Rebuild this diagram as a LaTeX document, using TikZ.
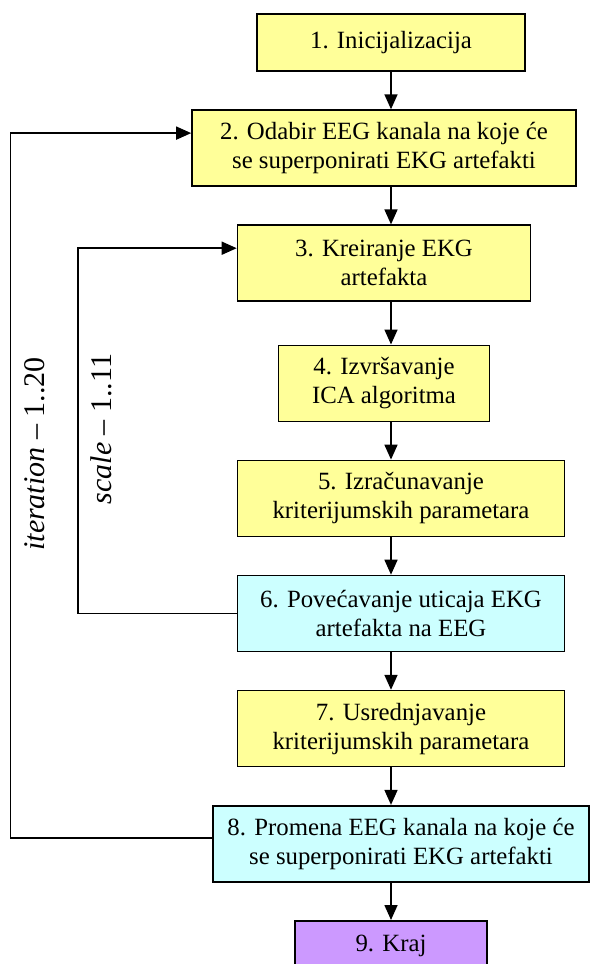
\documentclass[tikz,border=0pt]{standalone}
\usepackage{fontspec}
\setmainfont{Liberation Serif}
\usetikzlibrary{chains,positioning,arrows.meta}
\definecolor{stepyellow}{HTML}{FFFF99}
\definecolor{stepcyan}{HTML}{CCFFFF}
\definecolor{steppurple}{HTML}{CC99FF}

\begin{document}
\begin{tikzpicture}[x=1pt,y=1pt]
\tikzstyle{every path}=[line width=0.8pt]
\tikzstyle{every node}=[font=\fontsize{12.4}{14.5}\selectfont]
\edef\stepheight{38pt}
\tikzstyle{stepbox}=[draw,fill=stepyellow,minimum height=\stepheight,align=center,inner sep=1pt]
\tikzstyle{flowarrow}=[-{Triangle[length=7.5pt,width=6.5pt]}]
\tikzstyle{looplabel}=[rotate=90,font=\fontsize{15}{18}\selectfont]
\useasboundingbox (0,0) rectangle (295,-482);
\begin{scope}[start chain=1 going below,node distance=18.75pt]
 \node [on chain=1,stepbox,minimum width=134pt,minimum height=28.5pt] at (195.5,-21.25) (init) {1. Inicijalizacija};
 \node [on chain=1,stepbox,minimum width=192pt,xshift=-3.5pt] (choose) {2. Odabir EEG kanala na koje će\\se superponirati EKG artefakti};
 \node [on chain=1,stepbox,minimum width=146.5pt] (create) {3. Kreiranje EKG\\artefakta};
 \node [on chain=1,stepbox,minimum width=105.5pt,yshift=-2.5pt] (ica) {4. Izvršavanje\\ICA algoritma};
 \node [on chain=1,stepbox,minimum width=163.5pt,xshift=8.5pt] (crit) {5. Izračunavanje\\kriterijumskih parametara};
 \node [on chain=1,stepbox,fill=stepcyan,minimum width=163.5pt] (incr) {6. Povećavanje uticaja EKG\\artefakta na EEG};
 \node [on chain=1,stepbox,minimum width=163.5pt] (avg) {7. Usrednjavanje\\kriterijumskih parametara};
 \node [on chain=1,stepbox,fill=stepcyan,minimum width=188pt] (change) {8. Promena EEG kanala na koje će\\se superponirati EKG artefakti};
 \node [on chain=1,stepbox,fill=steppurple,minimum width=96pt,minimum height=25.5pt,xshift=-5pt] (stop) {9. Kraj};
\end{scope}
\foreach \from/\to in {init/choose,choose/create,create/ica,ica/crit,crit/incr,incr/avg,avg/change,change/stop}
 \draw [flowarrow] (\from.south -| init) -- (\to.north -| init);
% loops back
\coordinate (iterx) at (5.3,0);
\coordinate (scalex) at (39,0);
\draw [flowarrow] ([yshift=3pt]change.west) -- ([yshift=3pt]change.west -| iterx) |- ([yshift=7.5pt]choose.west);
\draw [flowarrow] (incr.west) -- (incr.west -| scalex) |- ([yshift=7.5pt]create.west);
\node [looplabel] (iterlabel) at (17.5,-227) {\textit{iteration} – 1..20};
\node [looplabel] (scalelabel) at (50.5,-214.5) {\textit{scale} – 1..11};
\end{tikzpicture}
\end{document}
